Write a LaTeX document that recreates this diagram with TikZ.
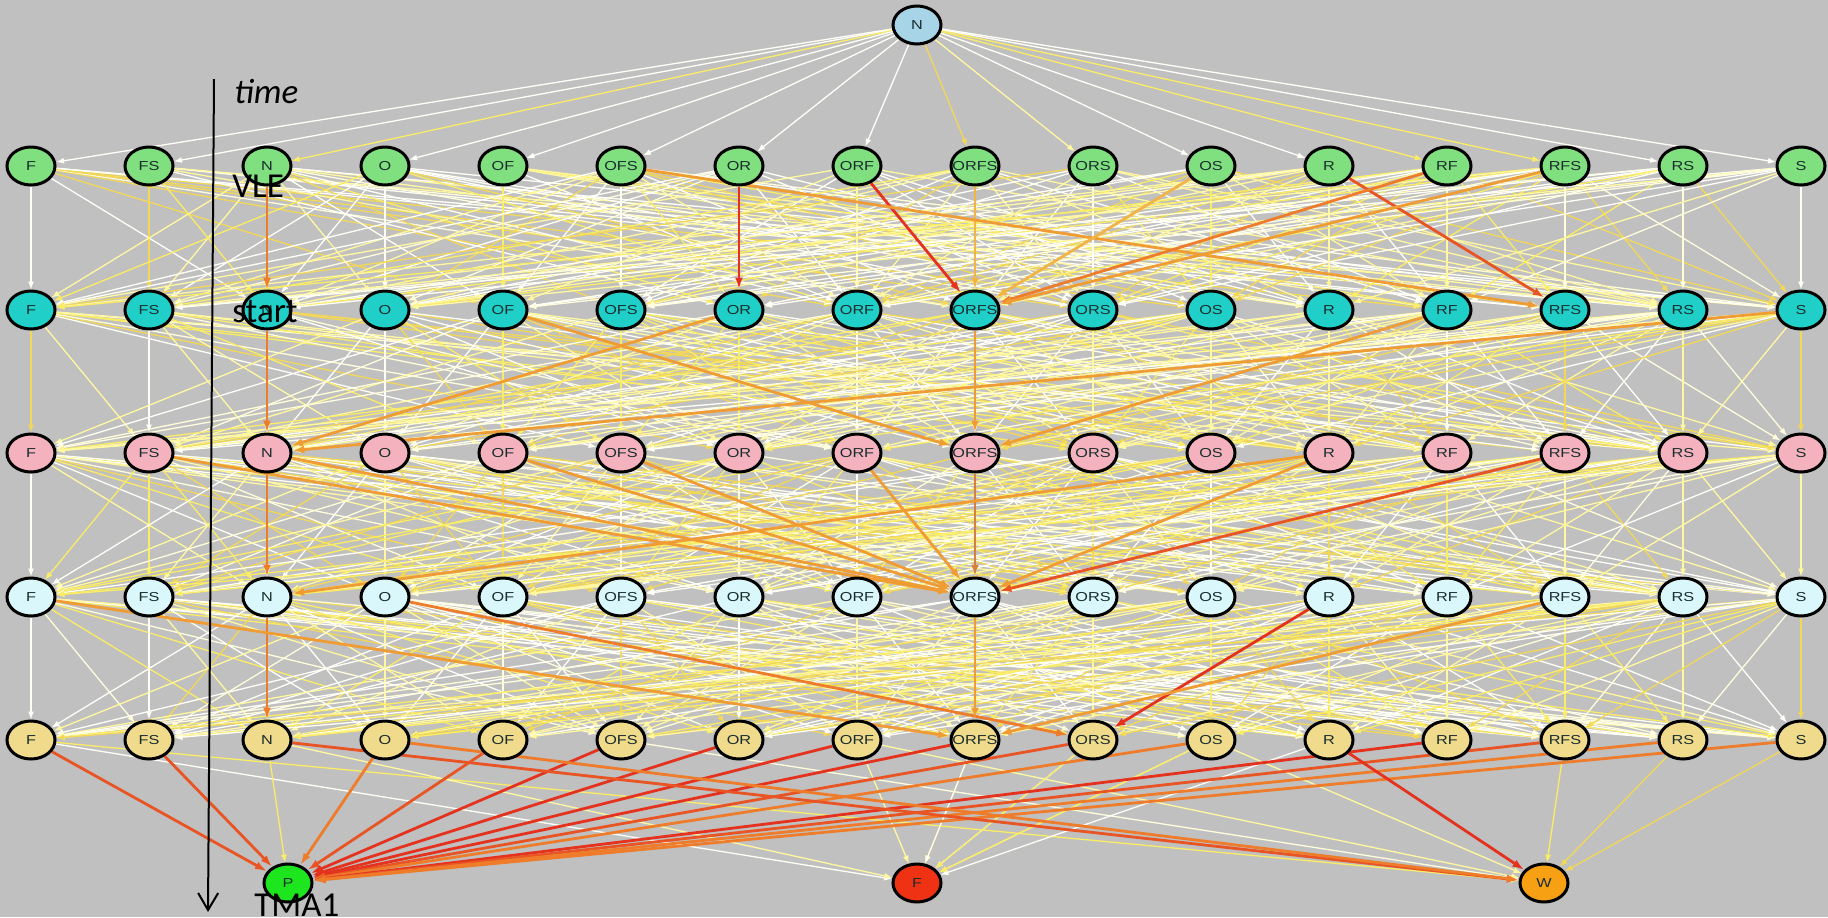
\documentclass[tikz,border=0pt]{standalone}
\usepackage{fontspec}
\setmainfont{Liberation Sans}
\newfontfamily\annotfont{Carlito}
\usetikzlibrary{shapes.geometric,arrows.meta}
\pgfdeclarelayer{bgl}
\pgfdeclarelayer{edges}
\pgfsetlayers{bgl,edges,main}

\definecolor{bg}{RGB}{192,192,192}
\definecolor{rowA}{RGB}{128,224,128}
\definecolor{rowB}{RGB}{32,208,200}
\definecolor{rowC}{RGB}{244,178,190}
\definecolor{rowD}{RGB}{218,248,252}
\definecolor{rowE}{RGB}{240,218,140}
\definecolor{topN}{RGB}{168,212,232}
\definecolor{pGreen}{RGB}{30,230,30}
\definecolor{fRed}{RGB}{240,50,20}
\definecolor{wOr}{RGB}{248,160,20}
\definecolor{nodetext}{RGB}{25,45,45}
\definecolor{pw}{RGB}{255,255,248}
\definecolor{pwy}{RGB}{255,253,220}
\definecolor{py}{RGB}{255,248,160}
\definecolor{pyy}{RGB}{250,236,100}
\definecolor{pg}{RGB}{242,216,86}
\definecolor{cRed}{RGB}{228,50,30}
\definecolor{cRedOr}{RGB}{232,84,36}
\definecolor{cOr}{RGB}{238,124,42}
\definecolor{cOrL}{RGB}{240,156,52}
\definecolor{cYel}{RGB}{242,180,70}
\definecolor{cBrown}{RGB}{214,128,64}

\begin{document}
\begin{tikzpicture}[x=0.5pt,y=-0.5pt,
  state/.style={ellipse,draw=black,line width=1.5pt,inner sep=0pt,
    minimum width=24pt,minimum height=19pt,text=nodetext,
    font=\fontsize{6.5}{7}\selectfont},
  thin/.style={line width=0.65pt,-{Latex[length=4pt,width=3pt]}},
  pale0/.style={thin,draw=pw},
  pale1/.style={thin,draw=pw},
  pale2/.style={thin,draw=pwy},
  pale3/.style={thin,draw=py},
  pale4/.style={thin,draw=py},
  pale5/.style={thin,draw=pyy},
  pale6/.style={thin,draw=pg},
  hot/.style={line width=1.4pt,-{Latex[length=6pt,width=4pt]}},
  note/.style={anchor=base west,inner sep=0pt,text=black,
    font=\annotfont\fontsize{17.5}{20}\selectfont}]

\begin{pgfonlayer}{bgl}
  \fill[bg] (0,0) rectangle (1828,917);
\end{pgfonlayer}
\useasboundingbox (0,0) rectangle (1828,917);

% start state
\node[state,fill=topN] (top) at (917,25) {\makebox[0pt]{\scalebox{1.25}[1]{N}}};

% five rows of states
\foreach \r/\y/\col in {1/166/rowA,2/310/rowB,3/453/rowC,4/597/rowD,5/740/rowE}{
  \foreach \lab [count=\i from 0] in {F,FS,N,O,OF,OFS,OR,ORF,ORFS,ORS,OS,R,RF,RFS,RS,S}{
    \node[state,fill=\col,alias=r\r c\i] (r\r-\lab) at ({31+118*\i},\y)
      {\makebox[0pt]{\scalebox{1.25}[1]{\lab}}};
  }
}

% outcomes
\node[state,fill=pGreen] (bP) at (288,883) {\makebox[0pt]{\scalebox{1.25}[1]{P}}};
\node[state,fill=fRed]   (bF) at (917,883) {\makebox[0pt]{\scalebox{1.25}[1]{F}}};
\node[state,fill=wOr]    (bW) at (1544,883) {\makebox[0pt]{\scalebox{1.25}[1]{W}}};

\begin{pgfonlayer}{edges}
  % transitions from the start state
  \foreach \lab/\s in {F/pale0,FS/pale1,N/pale5,O/pale0,OF/pale1,OFS/pale0,OR/pale1,
      ORF/pale0,ORFS/pale6,ORS/pale3,OS/pale0,R/pale1,RF/pale5,RFS/pale5,RS/pale0,S/pale1}
    \draw[\s] (top) -- (r1-\lab);

  % background transitions between consecutive rows
  \pgfmathsetseed{4711}
  \foreach \L in {1,...,4}{
    \pgfmathtruncatemacro\M{\L+1}
    \foreach \i in {0,...,15}{
      \foreach \j in {0,...,15}{
        \pgfmathtruncatemacro\h{rnd*100}
        \pgfmathtruncatemacro\k{rnd*6.99}
        \ifnum\i=\j \def\h{0}\fi
        \ifnum\h<66 \draw[pale\k] (r\L c\i) -- (r\M c\j);\fi
      }
    }
  }

  % background transitions into the outcomes
  \foreach \j in {0,...,15}{
    \pgfmathtruncatemacro\h{rnd*100}
    \pgfmathtruncatemacro\k{rnd*6.99}
    \ifnum\h<55 \draw[pale\k] (r5c\j) -- (bF);\fi
    \pgfmathtruncatemacro\h{rnd*100}
    \pgfmathtruncatemacro\k{rnd*6.99}
    \ifnum\h<50 \draw[pale\k] (r5c\j) -- (bW);\fi
  }
  \draw[pale5] (r5-N) -- (bP);
  \draw[pale0] (r5-ORFS) -- (bF);
  \draw[pale5] (r5-ORS) -- (bF);
  \draw[pale5] (r5-OS) -- (bF);
  \draw[pale5] (r5-RFS) -- (bW);
  \draw[pale6] (r5-RS) -- (bW);
  \draw[pale6] (r5-S) -- (bW);

  % frequent transitions, row 1 to row 2
  \draw[hot,cOr]    (r1-N)    -- (r2-N);
  \draw[hot,cRed]   (r1-OR)   -- (r2-OR);
  \draw[hot,cRed]   (r1-ORF)  -- (r2-ORFS);
  \draw[hot,cYel]   (r1-ORFS) -- (r2-ORFS);
  \draw[hot,cOrL]   (r1-OFS)  -- (r2-RFS);
  \draw[hot,cRedOr] (r1-R)    -- (r2-RFS);
  \draw[hot,cOr]    (r1-RF)   -- (r2-ORFS);
  \draw[hot,cOrL]   (r1-RFS)  -- (r2-ORFS);
  \draw[hot,cYel]   (r1-OS)   -- (r2-ORFS);

  % row 2 to row 3
  \draw[hot,cOr]    (r2-N)    -- (r3-N);
  \draw[hot,cOrL]   (r2-OR)   -- (r3-N);
  \draw[hot,cOrL]   (r2-OF)   -- (r3-ORFS);
  \draw[hot,cOrL]   (r2-ORFS) -- (r3-ORFS);
  \draw[hot,cOrL]   (r2-RF)   -- (r3-ORFS);
  \draw[hot,cOrL]   (r2-S)    -- (r3-N);

  % row 3 to row 4
  \draw[hot,cOr]    (r3-N)    -- (r4-N);
  \draw[hot,cOrL]   (r3-FS)   -- (r4-ORFS);
  \draw[hot,cOrL]   (r3-N)    -- (r4-ORFS);
  \draw[hot,cOrL]   (r3-OF)   -- (r4-ORFS);
  \draw[hot,cOrL]   (r3-OFS)  -- (r4-ORFS);
  \draw[hot,cOrL]   (r3-ORF)  -- (r4-ORFS);
  \draw[hot,cBrown] (r3-ORFS) -- (r4-ORFS);
  \draw[hot,cOrL]   (r3-R)    -- (r4-ORFS);
  \draw[hot,cOrL]   (r3-R)    -- (r4-N);
  \draw[hot,cRedOr] (r3-RFS)  -- (r4-ORFS);

  % row 4 to row 5
  \draw[hot,cOr]    (r4-N)    -- (r5-N);
  \draw[hot,cOrL]   (r4-F)    -- (r5-ORFS);
  \draw[hot,cOr]    (r4-O)    -- (r5-ORS);
  \draw[hot,cRed]   (r4-R)    -- (r5-ORS);
  \draw[hot,cOrL]   (r4-ORFS) -- (r5-ORFS);
  \draw[hot,cOrL]   (r4-RFS)  -- (r5-ORFS);

  % row 5 to the outcomes
  \foreach \lab/\c in {F/cRedOr,FS/cRedOr,O/cOr,OF/cRedOr,OFS/cRed,OR/cRed,ORF/cRed,
      ORFS/cRed,ORS/cRedOr,OS/cOr,RF/cRed,RFS/cRedOr,RS/cOr,S/cOr}
    \draw[hot,\c] (r5-\lab) -- (bP);
  \draw[hot,cRedOr] (r5-N) -- (bW);
  \draw[hot,cOr]    (r5-O) -- (bW);
  \draw[hot,cRed]   (r5-R) -- (bW);
\end{pgfonlayer}

% time axis and annotations
\coordinate (t0) at (214,79);
\coordinate (t1) at (208,912);
\draw[line width=1pt,-{Straight Barb[length=8.5pt,width=10pt]}] (t0) -- (t1);
\node[note,font=\annotfont\fontsize{17.5}{20}\selectfont\itshape] (ltime) at (234,103) {time};
\node[note] (lvle) at (232,197) {VLE};
\node[note] (lstart) at (232,322) {start};
\node[note] (ltma) at (254,916) {TMA1};
\end{tikzpicture}
\end{document}
